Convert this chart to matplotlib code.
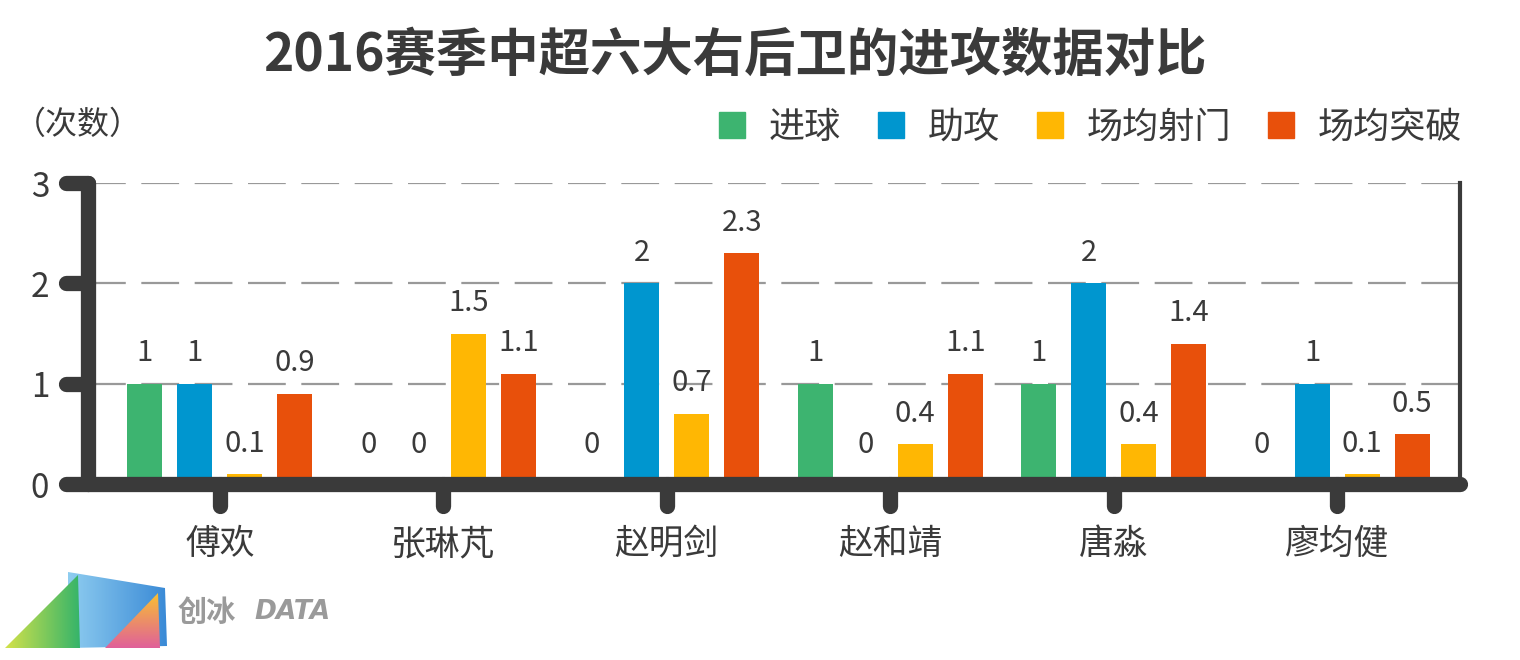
import numpy as np
import matplotlib
matplotlib.use("Agg")
import matplotlib.pyplot as plt
from matplotlib.lines import Line2D
from matplotlib.patches import Polygon
from matplotlib.colors import LinearSegmentedColormap
from matplotlib.markers import MarkerStyle, TICKLEFT, TICKDOWN

plt.rcParams["font.family"] = ["Noto Sans CJK SC", "DejaVu Sans"]

# data
players = ["傅欢", "张琳芃", "赵明剑", "赵和靖", "唐淼", "廖均健"]
series_names = ["进球", "助攻", "场均射门", "场均突破"]
goals = [1, 0, 0, 1, 1, 0]
assists = [1, 0, 2, 0, 2, 1]
shots_per_game = [0.1, 1.5, 0.7, 0.4, 0.4, 0.1]
dribbles_per_game = [0.9, 1.1, 2.3, 1.1, 1.4, 0.5]
y_ticks = [0, 1, 2, 3]

colors = ["#3db470", "#0096cf", "#ffb703", "#e8500b"]
DARK = "#3a3a3a"

fig = plt.figure(figsize=(15.2, 6.6), dpi=100)
ax = fig.add_axes([88 / 1520, 176 / 660, (1460 - 88) / 1520, (484 - 183) / 660])

x = np.arange(len(players))
step = 0.224
width = 0.157
series = [goals, assists, shots_per_game, dribbles_per_game]
for i, (vals, color) in enumerate(zip(series, colors)):
    pos = x + (i - 1.5) * step
    ax.bar(pos, vals, width, color=color, zorder=2)
    for px, v in zip(pos, vals):
        ax.annotate(f"{v:g}", (px, v), xytext=(0, 11 if v > 0 else 17),
                    textcoords="offset points", ha="center", va="bottom",
                    fontsize=21, color=DARK)

ax.set_xlim(-0.59, 5.55)
ax.set_ylim(0, 3)
ax.set_yticks(y_ticks)
ax.set_xticks(x)
ax.set_xticklabels(players)

ax.set_axisbelow(True)
ax.yaxis.grid(True, color="#999999", lw=1.6, linestyle=(0, (17, 7)), zorder=1)

for side in ["left", "bottom"]:
    ax.spines[side].set_linewidth(11)
    ax.spines[side].set_color(DARK)
    ax.spines[side].set_capstyle("round")
ax.spines["right"].set_linewidth(3)
ax.spines["right"].set_color(DARK)
ax.spines["top"].set_visible(False)

ax.tick_params(axis="y", width=11, length=16, color=DARK, labelsize=24,
               labelcolor=DARK, pad=12)
ax.tick_params(axis="x", width=11, length=16, color=DARK, labelsize=25,
               labelcolor=DARK, pad=15)
# rounded tick ends
for t in ax.yaxis.get_major_ticks():
    t.tick1line.set_marker(MarkerStyle(TICKLEFT, capstyle="round"))
for t in ax.xaxis.get_major_ticks():
    t.tick1line.set_marker(MarkerStyle(TICKDOWN, capstyle="round"))

fig.text(735 / 1520, 1 - 55 / 660, "2016赛季中超六大右后卫的进攻数据对比",
         ha="center", va="center", fontsize=37, fontweight="bold", color=DARK)
fig.text(14 / 1520, 1 - 125 / 660, "（次数）", ha="left", va="center",
         fontsize=23, color=DARK)

handles = [Line2D([], [], marker="s", linestyle="none", markersize=19,
                  markerfacecolor=c, markeredgecolor=c) for c in colors]
fig.legend(handles, series_names, loc="center right",
           bbox_to_anchor=(1462 / 1520, 1 - 128 / 660), ncol=4, frameon=False,
           fontsize=26, handletextpad=0.5, columnspacing=0.9, handlelength=1.0,
           borderaxespad=0, borderpad=0, labelcolor=DARK)

# logo in the bottom-left corner
lax = fig.add_axes([0, 0, 380 / 1520, 100 / 660])
lax.axis("off")
grad = np.linspace(0, 1, 256)


def gradient_shape(pts, c0, c1, vertical=False):
    pts = np.array(pts, dtype=float)
    patch = Polygon(pts, closed=True, facecolor="none", edgecolor="none")
    lax.add_patch(patch)
    data = grad[:, None] if vertical else grad[None, :]
    cmap = LinearSegmentedColormap.from_list("g", [c0, c1])
    ext = [pts[:, 0].min(), pts[:, 0].max(), pts[:, 1].max(), pts[:, 1].min()]
    im = lax.imshow(data, cmap=cmap, extent=ext, aspect="auto",
                    origin="upper" if vertical else "lower")
    im.set_clip_path(patch)


gradient_shape([(68, 12), (165, 28), (167, 86), (68, 88)], "#8fcdf0", "#3a8ad6")
gradient_shape([(5, 88), (78, 15), (80, 88)], "#d4e24a", "#35b46a")
gradient_shape([(105, 88), (158, 33), (160, 88)], "#f8c032", "#e0609a", vertical=True)
lax.text(178, 52, "创冰", fontsize=21, fontweight="bold", color="#9a9a9a",
         ha="left", va="center")
lax.text(254, 52, "DATA", fontsize=19, fontweight="bold", fontstyle="italic",
         family="DejaVu Sans", color="#9a9a9a", ha="left", va="center")
lax.set_xlim(0, 380)
lax.set_ylim(100, 0)

fig.savefig("out.png", dpi=100)
